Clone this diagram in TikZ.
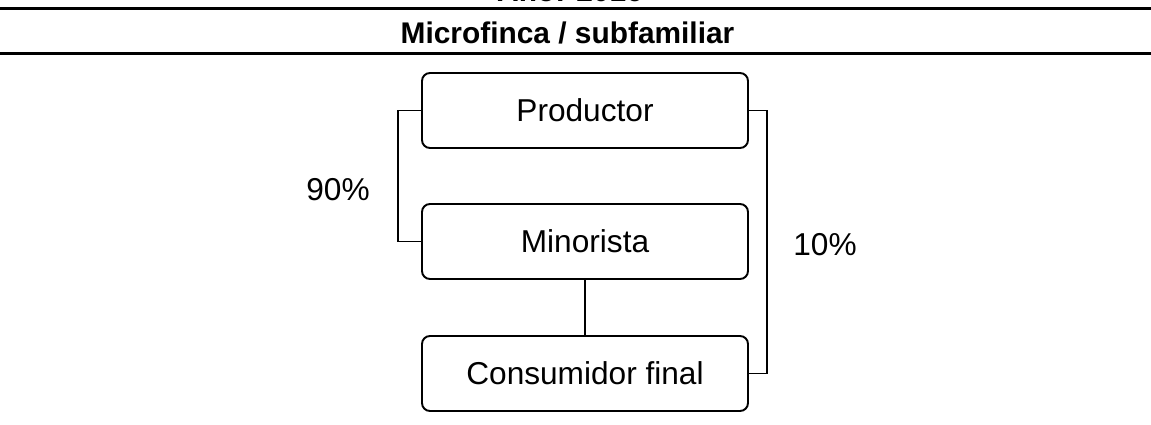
\documentclass[tikz,border=0pt]{standalone}
\usepackage{fontspec}
\setmainfont{Liberation Sans}
\begin{document}
\begin{tikzpicture}[
    every node/.style={inner sep=0pt, font=\fontsize{18}{21}\selectfont},
    actor/.style={draw, line width=1.1pt, rounded corners=1.6mm, minimum width=6.52cm, minimum height=1.5cm},
    heading/.style={font=\fontsize{17}{20}\selectfont\bfseries, anchor=base},
    rule/.style={line width=1.4pt},
    link/.style={draw, line width=0.9pt}
]
\useasboundingbox (0,0) rectangle (23.02,8.48);
% encabezado
\node[heading] (anio) at (11.40,8.44) {Año: 2016};
\draw[rule] (0,8.31) -- (23.02,8.31);
\node[heading] (titulo) at (11.35,7.61) {Microfinca / subfamiliar};
\draw[rule] (0,7.41) -- (23.02,7.41);
% agentes
\node[actor] (prod) at (11.70,6.27) {Productor};
\node[actor] (mino) at (11.70,3.65) {Minorista};
\node[actor] (cons) at (11.70,1.01) {Consumidor final};
% canales
\draw[link] (prod.west) -- ([xshift=-4.6mm]prod.west) |- (mino.west);
\draw[link] (prod.east) -- ([xshift=3.6mm]prod.east) |- (cons.east);
\draw[link] (mino.south) -- (cons.north);
\node (p90) at (6.76,4.68) {90\%};
\node (p10) at (16.50,3.58) {10\%};
\end{tikzpicture}
\end{document}
